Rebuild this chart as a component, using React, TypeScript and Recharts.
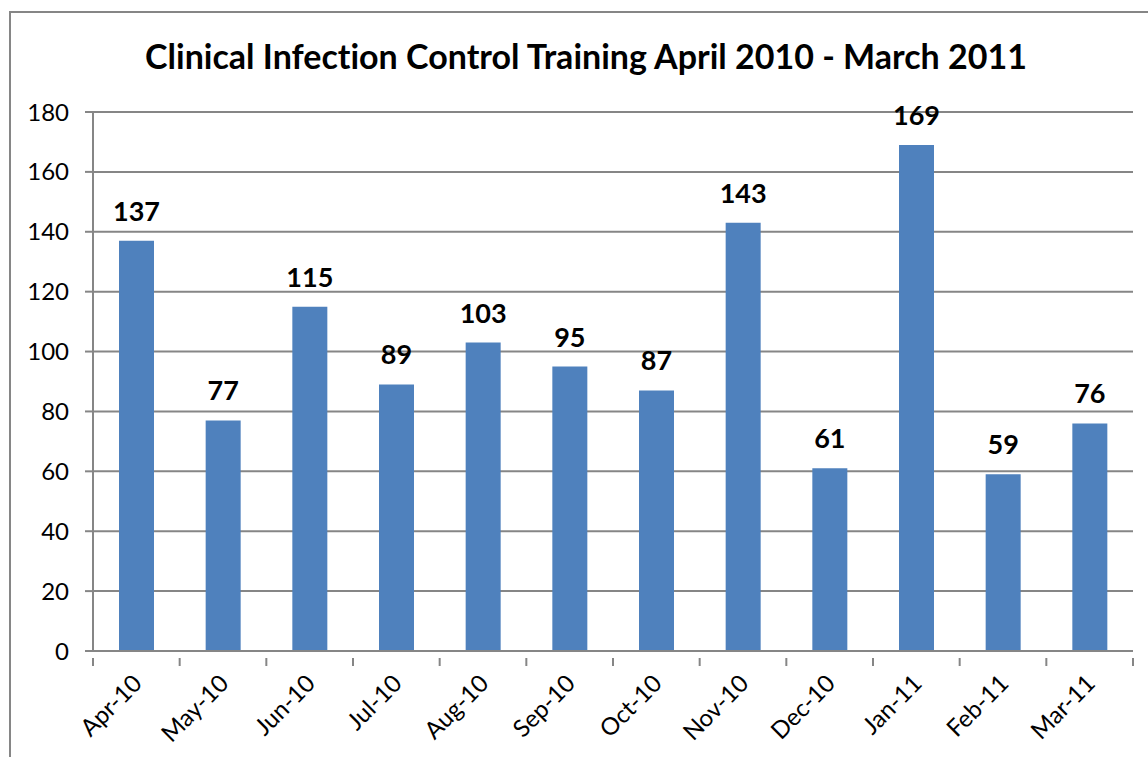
import React from "react";
import { BarChart, Bar, XAxis, YAxis, CartesianGrid, LabelList } from "recharts";

const months = ["Apr-10", "May-10", "Jun-10", "Jul-10", "Aug-10", "Sep-10", "Oct-10", "Nov-10", "Dec-10", "Jan-11", "Feb-11", "Mar-11"];
const trainees = [137, 77, 115, 89, 103, 95, 87, 143, 61, 169, 59, 76];
const yTicks = [0, 20, 40, 60, 80, 100, 120, 140, 160, 180];
const title = "Clinical Infection Control Training April 2010 - March 2011";

const data = months.map((m, i) => ({ month: m, value: trainees[i] }));

const W = 1148;
const H = 757;
const M = { top: 112, right: 15, bottom: 0, left: 0 };
const Y_W = 93;
const X_H = 106;
const FONT = "Lato, 'Open Sans', sans-serif";
const GRAY = "#868686";

const plotW = W - M.left - M.right - Y_W;
const band = plotW / months.length;

const XTick = (props: any) => {
  const { x, y, payload, index } = props;
  const isLast = index === months.length - 1;
  return (
    <g>
      <line x1={x - band / 2} x2={x - band / 2} y1={y - 1} y2={y + 7} stroke={GRAY} strokeWidth={2} />
      {isLast && <line x1={x + band / 2} x2={x + band / 2} y1={y - 1} y2={y + 7} stroke={GRAY} strokeWidth={2} />}
      <text
        x={x + 7}
        y={y + 26}
        transform={`rotate(-45, ${x + 7}, ${y + 26})`}
        textAnchor="end"
        fontFamily={FONT}
        fontSize={24}
        fill="#000"
        style={{ fontVariantLigatures: "none" }}
      >
        {payload.value}
      </text>
    </g>
  );
};

export default function App() {
  return (
    <div style={{ position: "absolute", left: 0, top: 0, width: W, height: H, overflow: "hidden", background: "#fff" }}>
      <div style={{ position: "absolute", left: 9, top: 11, width: W + 20, height: H + 20, border: `2px solid ${GRAY}`, boxSizing: "border-box" }} />
      <div
        style={{
          position: "absolute",
          left: 0,
          width: 1172,
          top: 36,
          textAlign: "center",
          fontFamily: FONT,
          fontWeight: 700,
          fontSize: 34,
          lineHeight: "40px",
          color: "#000",
          fontVariantLigatures: "none",
        }}
      >
        {title}
      </div>
      <div style={{ position: "absolute", left: 0, top: 0 }}>
        <BarChart width={W} height={H} data={data} margin={M} barCategoryGap="30%">
          <CartesianGrid horizontal vertical={false} stroke={GRAY} strokeWidth={2} strokeOpacity={1} />
          <XAxis
            dataKey="month"
            height={X_H}
            interval={0}
            tickLine={false}
            axisLine={{ stroke: GRAY, strokeWidth: 2 }}
            tick={<XTick />}
          />
          <YAxis
            width={Y_W}
            domain={[0, 180]}
            ticks={yTicks}
            interval={0}
            tickSize={8}
            tickMargin={16}
            tickLine={{ stroke: GRAY, strokeWidth: 2 }}
            axisLine={{ stroke: GRAY, strokeWidth: 2 }}
            tick={{ fill: "#000", fontFamily: FONT, fontSize: 24 }}
          />
          <Bar dataKey="value" fill="#4F81BD" isAnimationActive={false}>
            <LabelList
              dataKey="value"
              position="top"
              offset={20}
              fill="#000"
              fontFamily={FONT}
              fontWeight={700}
              fontSize={27}
            />
          </Bar>
        </BarChart>
      </div>
    </div>
  );
}
